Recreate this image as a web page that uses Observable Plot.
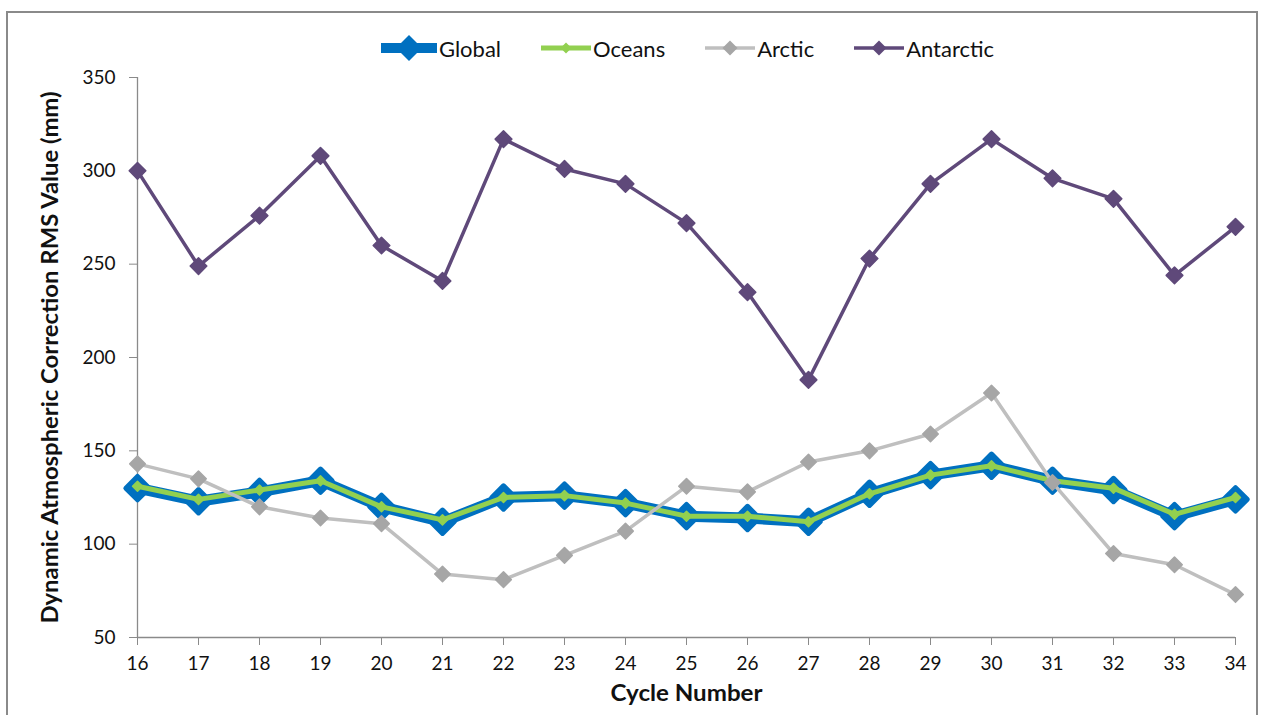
<!DOCTYPE html>
<html><head><meta charset="utf-8">
<script src="https://cdn.jsdelivr.net/npm/d3@7"></script>
<script src="https://cdn.jsdelivr.net/npm/@observablehq/plot@0.6"></script>
<style>
body{margin:0;background:#fff;font-family:Lato,"Open Sans",sans-serif;}
#wrap{position:relative;width:1263px;height:715px;overflow:hidden;background:#fff;}
#frame{position:absolute;left:6px;top:11px;width:1252px;height:730px;border:2px solid #8a8a8a;border-bottom:none;box-sizing:border-box;pointer-events:none;}
#legend{position:absolute;top:33px;left:0;width:1263px;display:flex;justify-content:center;gap:40px;padding-left:112px;box-sizing:border-box;font-size:22px;color:#111;}
.item{display:flex;align-items:center;}
.item svg{display:block;}
#chart{position:absolute;left:0;top:0;}
</style></head>
<body><div id="wrap"><div id="chart"></div><div id="legend"></div><div id="frame"></div></div>
<script>
const cycles    = [16,17,18,19,20,21,22,23,24,25,26,27,28,29,30,31,32,33,34];
const global    = [130,123,128,134,120,112,125,126,122,115,114,112,127,137,142,134,129,115,124];
const oceans    = [131,124,129,134,120,113,125,126,122,115,115,112,127,137,142,134,130,116,125];
const arctic    = [143,135,120,114,111,84,81,94,107,131,128,144,150,159,181,133,95,89,73];
const antarctic = [300,249,276,308,260,241,317,301,293,272,235,188,253,293,317,296,285,244,270];
const seriesNames = ["Global","Oceans","Arctic","Antarctic"];
const yTicks = [50,100,150,200,250,300,350];

const seriesValues = [global, oceans, arctic, antarctic];
const lineColors   = ["#0070C0","#92D050","#BFBFBF","#5F497A"];
const markColors   = ["#0070C0","#92D050","#A6A6A6","#5F497A"];
const lineWidths   = [11, 5, 3.5, 3.5];
const markR        = [10.5, 4.5, 7, 7.5];

const rows = [];
seriesNames.forEach((s,i) => cycles.forEach((c,j) => rows.push({series:s, cycle:c, value:seriesValues[i][j]})));

const marks = [
  Plot.ruleX([16], {stroke:"#8a8a8a", strokeWidth:1.3}),
  Plot.ruleY([50], {stroke:"#8a8a8a", strokeWidth:1.3}),
  Plot.axisY({ticks:yTicks, tickSize:8, tickPadding:14, stroke:"#8a8a8a", fontSize:19, label:"Dynamic Atmospheric Correction RMS Value (mm)", labelAnchor:"center", labelArrow:"none", labelOffset:95}),
  Plot.axisX({ticks:cycles, tickSize:8, tickPadding:11, stroke:"#8a8a8a", fontSize:19, label:"Cycle Number", labelAnchor:"center", labelArrow:"none", labelOffset:63}),
];
seriesNames.forEach((s,i) => {
  const d = rows.filter(r => r.series === s);
  marks.push(Plot.line(d, {x:"cycle", y:"value", stroke:lineColors[i], strokeWidth:lineWidths[i], strokeLinejoin:"round"}));
  marks.push(Plot.dot(d, {x:"cycle", y:"value", symbol:"diamond2", r:markR[i], fill:markColors[i], stroke:markColors[i], strokeWidth: i===0 ? 5 : 1.5, strokeLinejoin:"round"}));
});

const chart = Plot.plot({
  width:1263, height:715,
  marginLeft:137, marginRight:28, marginTop:77, marginBottom:78,
  x:{domain:[16,34]},
  y:{domain:[50,350]},
  style:{fontFamily:"Lato, 'Open Sans', sans-serif", color:"#111", background:"transparent"},
  marks
});
const yl = chart.querySelector("[aria-label='y-axis label'] text");
const xl = chart.querySelector("[aria-label='x-axis label'] text");
[yl, xl].forEach(t => { if (t) { t.style.fontWeight="bold"; t.style.fontSize="22px"; t.setAttribute("lengthAdjust","spacingAndGlyphs"); } });
if (yl) yl.setAttribute("textLength", 532);
if (xl) xl.setAttribute("textLength", 152);
document.getElementById("chart").appendChild(chart);

// legend
const leg = document.getElementById("legend");
seriesNames.forEach((s,i) => {
  const it = document.createElement("div"); it.className="item";
  const w = i===0 ? 56 : 50;
  const h = 30, c = h/2, rr = i===0 ? 13 : (i===1 ? 5.5 : 7.5);
  it.innerHTML = `<svg width="${w}" height="${h}"><line x1="0" x2="${w}" y1="${c}" y2="${c}" stroke="${lineColors[i]}" stroke-width="${i===0?10:lineWidths[i]}" stroke-linecap="round"/><path d="M${w/2},${c-rr}L${w/2+rr},${c}L${w/2},${c+rr}L${w/2-rr},${c}Z" fill="${markColors[i]}"/></svg><span style="margin-left:2px">${s}</span>`;
  leg.appendChild(it);
});
</script></body></html>
